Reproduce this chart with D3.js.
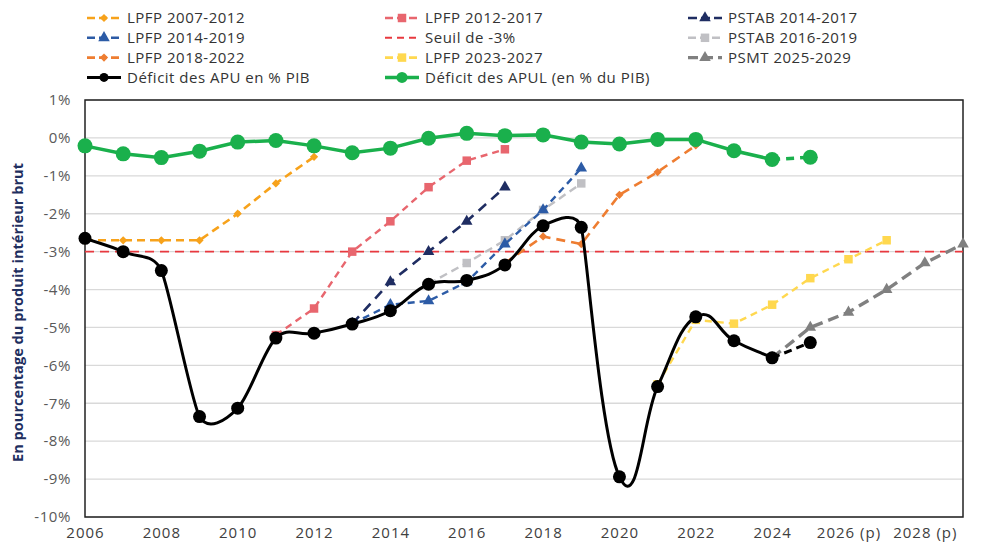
<!DOCTYPE html>
<html>
<head>
<meta charset="utf-8">
<script src="https://cdn.jsdelivr.net/npm/d3@7"></script>
<style>
  body { margin: 0; background: #fff; }
  text { font-family: "Open Sans", sans-serif; }
</style>
</head>
<body>
<svg id="chart" width="985" height="544"></svg>
<script>
// data (en % du PIB)
const years = d3.range(2006, 2026);
const apu = [-2.65, -3.0, -3.5, -7.35, -7.13, -5.28, -5.15, -4.91, -4.56, -3.86, -3.76, -3.35, -2.32, -2.36, -8.94, -6.56, -4.72, -5.35, -5.8, -5.4];
const apul = [-0.21, -0.42, -0.52, -0.35, -0.11, -0.07, -0.21, -0.39, -0.27, -0.01, 0.12, 0.06, 0.08, -0.11, -0.16, -0.04, -0.04, -0.34, -0.57, -0.51];

const lpfp0712 = { start: 2006, values: [-2.7, -2.7, -2.7, -2.7, -2.0, -1.2, -0.5] };
const lpfp1217 = { start: 2011, values: [-5.2, -4.5, -3.0, -2.2, -1.3, -0.6, -0.3] };
const pstab1417 = { start: 2013, values: [-4.9, -3.8, -3.0, -2.2, -1.3] };
const lpfp1419 = { start: 2013, values: [-4.9, -4.4, -4.3, -3.8, -2.8, -1.9, -0.8] };
const pstab1619 = { start: 2015, values: [-3.85, -3.3, -2.7, -1.9, -1.2] };
const lpfp1822 = { start: 2017, values: [-3.3, -2.6, -2.8, -1.5, -0.9, -0.2] };
const lpfp2327 = { start: 2021, values: [-6.5, -4.8, -4.9, -4.4, -3.7, -3.2, -2.7] };
const psmt2529 = { start: 2024, values: [-5.8, -5.0, -4.6, -4.0, -3.3, -2.8] };
const seuil = -3;

const xTicks = [2006, 2008, 2010, 2012, 2014, 2016, 2018, 2020, 2022, 2024, 2026, 2028];
const xTickLabels = ['2006', '2008', '2010', '2012', '2014', '2016', '2018', '2020', '2022', '2024', '2026 (p)', '2028 (p)'];
const yTicks = d3.range(-10, 2);

const margin = { top: 100, right: 22, bottom: 27, left: 85 };
const width = 985;
const height = 544;

const svg = d3.select('#chart');

const x = d3.scaleLinear()
  .domain([2006, 2029])
  .range([margin.left, width - margin.right]);

const y = d3.scaleLinear()
  .domain([-10, 1])
  .range([height - margin.bottom, margin.top]);

// grid
svg.append('g')
  .selectAll('line')
  .data(yTicks)
  .enter()
  .append('line')
  .attr('x1', x(2006))
  .attr('x2', x(2029))
  .attr('y1', d => y(d))
  .attr('y2', d => y(d))
  .attr('stroke', '#d9d9d9')
  .attr('stroke-width', 1.3);

// axes
const yAxis = d3.axisLeft(y)
  .tickValues(yTicks)
  .tickSize(0)
  .tickPadding(14)
  .tickFormat(d => d + '%');

svg.append('g')
  .attr('transform', `translate(${margin.left},0)`)
  .call(yAxis)
  .call(g => g.select('.domain').remove())
  .selectAll('text')
  .attr('fill', '#595959')
  .style('font-size', '15px')
  .style('letter-spacing', '0.6px');

const xAxis = d3.axisBottom(x)
  .tickValues(xTicks)
  .tickSize(0)
  .tickPadding(10)
  .tickFormat((d, i) => xTickLabels[i]);

svg.append('g')
  .attr('transform', `translate(0,${height - margin.bottom})`)
  .call(xAxis)
  .call(g => g.select('.domain').remove())
  .selectAll('text')
  .attr('fill', '#404040')
  .style('font-size', '15px')
  .style('letter-spacing', '1px');

// frame
svg.append('rect')
  .attr('x', x(2006))
  .attr('y', y(1))
  .attr('width', x(2029) - x(2006))
  .attr('height', y(-10) - y(1))
  .attr('fill', 'none')
  .attr('stroke', '#222')
  .attr('stroke-width', 1.5);

// axis title
svg.append('text')
  .attr('transform', `translate(23, ${(y(1) + y(-10)) / 2 + 4}) rotate(-90)`)
  .attr('text-anchor', 'middle')
  .attr('fill', '#1f2f5f')
  .style('font-size', '14.6px')
  .style('font-weight', 'bold')
  .text('En pourcentage du produit intérieur brut');

// seuil de -3%
svg.append('line')
  .attr('x1', x(2006))
  .attr('x2', x(2029))
  .attr('y1', y(seuil))
  .attr('y2', y(seuil))
  .attr('stroke', '#e8393f')
  .attr('stroke-width', 1.6)
  .attr('stroke-dasharray', '9,6');

const diamond = d3.symbol().type(d3.symbolSquare).size(34);
const square = d3.symbol().type(d3.symbolSquare).size(72);
const triangle = d3.symbol().type(d3.symbolTriangle).size(58);

const forecasts = [
  { s: lpfp0712, color: '#f7a21b', marker: diamond, rot: 45, w: 2.6, dash: '8,5' },
  { s: lpfp1217, color: '#e8666e', marker: square, rot: 0, w: 2.4, dash: '7,5' },
  { s: pstab1619, color: '#c0c0c4', marker: square, rot: 0, w: 2.4, dash: '8,5' },
  { s: lpfp1419, color: '#2c5ba6', marker: triangle, rot: 0, w: 2.4, dash: '7,5' },
  { s: pstab1417, color: '#1f2d62', marker: triangle, rot: 0, w: 2.6, dash: '10,7' },
  { s: lpfp1822, color: '#ee7d31', marker: diamond, rot: 45, w: 2.6, dash: '9,6' },
  { s: lpfp2327, color: '#ffd84f', marker: square, rot: 0, w: 2.4, dash: '7,5' },
  { s: psmt2529, color: '#808080', marker: triangle, rot: 0, w: 3.4, dash: '11,6' }
];

const line = d3.line().x(d => x(d[0])).y(d => y(d[1]));

forecasts.forEach(f => {
  const pts = f.s.values.map((v, i) => [f.s.start + i, v]);
  svg.append('path')
    .attr('d', line(pts))
    .attr('fill', 'none')
    .attr('stroke', f.color)
    .attr('stroke-width', f.w)
    .attr('stroke-dasharray', f.dash);
  svg.append('g')
    .selectAll('path')
    .data(pts)
    .enter()
    .append('path')
    .attr('d', f.marker)
    .attr('transform', d => `translate(${x(d[0])},${y(d[1])}) rotate(${f.rot})`)
    .attr('fill', f.color);
});

// spreadsheet-like smoothing: bezier handles follow the neighbour chord,
// their length taken from the shorter adjacent segment
function smoothPath(data) {
  const k = 0.45;
  const p = data.map(d => [x(d[0]), y(d[1])]);
  const n = p.length;
  const dist = (a, b) => Math.hypot(b[0] - a[0], b[1] - a[1]);
  const tan = p.map((q, i) => {
    const a = p[Math.max(i - 1, 0)], b = p[Math.min(i + 1, n - 1)];
    const L = dist(a, b);
    return [(b[0] - a[0]) / L, (b[1] - a[1]) / L];
  });
  const h = p.map((q, i) => {
    const dl = i > 0 ? dist(p[i - 1], q) : Infinity;
    const dr = i < n - 1 ? dist(q, p[i + 1]) : Infinity;
    return k * Math.min(dl, dr);
  });
  let path = `M${p[0][0]},${p[0][1]}`;
  for (let i = 0; i < n - 1; i++) {
    const c1 = [p[i][0] + tan[i][0] * h[i], p[i][1] + tan[i][1] * h[i]];
    const c2 = [p[i + 1][0] - tan[i + 1][0] * h[i + 1], p[i + 1][1] - tan[i + 1][1] * h[i + 1]];
    path += `C${c1[0]},${c1[1]},${c2[0]},${c2[1]},${p[i + 1][0]},${p[i + 1][1]}`;
  }
  return path;
}

// Déficit des APU
const apuPts = years.map((yr, i) => [yr, apu[i]]);

svg.append('path')
  .attr('d', smoothPath(apuPts.slice(0, 19)))
  .attr('fill', 'none')
  .attr('stroke', '#000')
  .attr('stroke-width', 3);

svg.append('path')
  .attr('d', line(apuPts.slice(18)))
  .attr('fill', 'none')
  .attr('stroke', '#000')
  .attr('stroke-width', 3)
  .attr('stroke-dasharray', '8,5');

svg.append('g')
  .selectAll('circle')
  .data(apuPts)
  .enter()
  .append('circle')
  .attr('cx', d => x(d[0]))
  .attr('cy', d => y(d[1]))
  .attr('r', 6.5)
  .attr('fill', '#000');

// Déficit des APUL
const apulPts = years.map((yr, i) => [yr, apul[i]]);

svg.append('path')
  .attr('d', line(apulPts.slice(0, 19)))
  .attr('fill', 'none')
  .attr('stroke', '#1ab04c')
  .attr('stroke-width', 3.5);

svg.append('path')
  .attr('d', line(apulPts.slice(18)))
  .attr('fill', 'none')
  .attr('stroke', '#1ab04c')
  .attr('stroke-width', 3.5)
  .attr('stroke-dasharray', '8,6');

svg.append('g')
  .selectAll('circle')
  .data(apulPts)
  .enter()
  .append('circle')
  .attr('cx', d => x(d[0]))
  .attr('cy', d => y(d[1]))
  .attr('r', 7.5)
  .attr('fill', '#1ab04c');

// legend
const legendItems = [
  { label: 'LPFP 2007-2012', color: '#f7a21b', marker: diamond, rot: 45, w: 2.6, dash: '8,4' },
  { label: 'LPFP 2012-2017', color: '#e8666e', marker: square, rot: 0, w: 2.6, dash: '8,4' },
  { label: 'PSTAB 2014-2017', color: '#1f2d62', marker: triangle, rot: 0, w: 2.6, dash: '9,4' },
  { label: 'LPFP 2014-2019', color: '#2c5ba6', marker: triangle, rot: 0, w: 2.6, dash: '8,4' },
  { label: 'Seuil de -3%', color: '#e8393f', marker: null, rot: 0, w: 2, dash: '7,5' },
  { label: 'PSTAB 2016-2019', color: '#c0c0c4', marker: square, rot: 0, w: 2.6, dash: '8,4' },
  { label: 'LPFP 2018-2022', color: '#ee7d31', marker: diamond, rot: 45, w: 2.6, dash: '8,4' },
  { label: 'LPFP 2023-2027', color: '#ffd84f', marker: square, rot: 0, w: 2.6, dash: '8,4' },
  { label: 'PSMT 2025-2029', color: '#808080', marker: triangle, rot: 0, w: 3.2, dash: '10,5' },
  { label: 'Déficit des APU en % PIB', color: '#000', marker: 'circle', r: 4.5, w: 3, dash: null },
  { label: 'Déficit des APUL (en % du PIB)', color: '#1ab04c', marker: 'circle', r: 5.5, w: 3.5, dash: null }
];
const colX = [87, 385, 688];

const legend = svg.selectAll('.legend')
  .data(legendItems)
  .enter()
  .append('g')
  .attr('class', 'legend')
  .attr('transform', (d, i) => `translate(${colX[i % 3]}, ${18 + Math.floor(i / 3) * 19.8})`);

legend.append('line')
  .attr('x1', 0)
  .attr('x2', 34)
  .attr('stroke', d => d.color)
  .attr('stroke-width', d => d.w)
  .attr('stroke-dasharray', d => d.dash);

legend.filter(d => d.marker === 'circle')
  .append('circle')
  .attr('cx', 17)
  .attr('r', d => d.r)
  .attr('fill', d => d.color);

legend.filter(d => d.marker && d.marker !== 'circle')
  .append('path')
  .attr('d', d => d.marker())
  .attr('transform', d => `translate(17,0) rotate(${d.rot})`)
  .attr('fill', d => d.color);

legend.append('text')
  .attr('x', 40)
  .attr('dy', '0.35em')
  .attr('fill', '#333')
  .style('font-size', '15px')
  .style('letter-spacing', '0.5px')
  .text(d => d.label);
</script>
</body>
</html>
